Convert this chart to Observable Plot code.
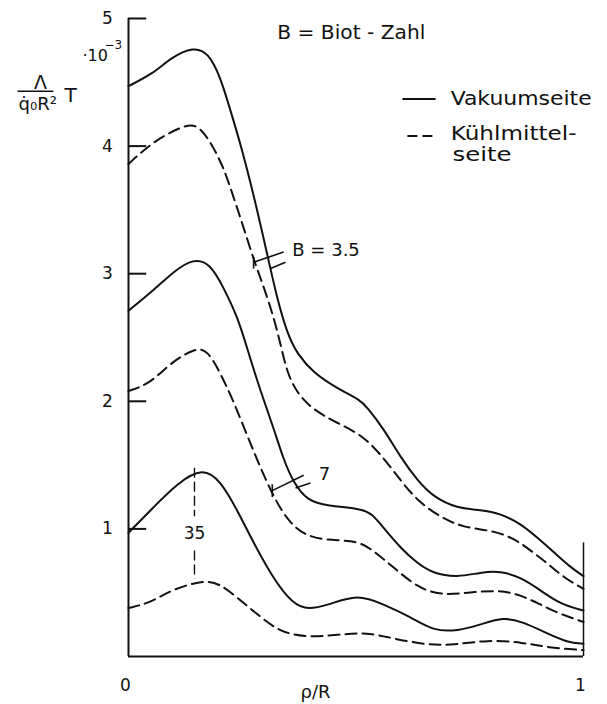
<!DOCTYPE html>
<html>
<head>
<meta charset="utf-8">
<script src="https://cdn.jsdelivr.net/npm/d3@7"></script>
<script src="https://cdn.jsdelivr.net/npm/@observablehq/plot@0.6"></script>
<style>
  html, body { margin: 0; padding: 0; background: #fff; }
  #chart svg { display: block; }
</style>
</head>
<body>
<div id="chart"></div>
<script>
// Dimensionless temperature Λ/(q̇0 R²)·T (×10⁻³) over ρ/R, for three Biot numbers.
// Each profile: [ρ/R, value] pairs.
const vakuum_B3_5 = [[0,4.47],[0.055,4.57],[0.092,4.69],[0.143,4.78],[0.176,4.73],[0.202,4.54],[0.224,4.28],[0.246,4.02],[0.275,3.62],[0.305,3.15],[0.327,2.80],[0.349,2.53],[0.371,2.37],[0.407,2.22],[0.459,2.10],[0.510,2.01],[0.525,1.95],[0.560,1.79],[0.598,1.56],[0.635,1.38],[0.670,1.25],[0.723,1.16],[0.774,1.15],[0.818,1.12],[0.862,1.04],[0.899,0.93],[0.934,0.82],[0.971,0.70],[1,0.63]];
const kuehl_B3_5 = [[0,3.86],[0.055,4.04],[0.130,4.18],[0.158,4.15],[0.187,3.99],[0.209,3.83],[0.231,3.60],[0.253,3.36],[0.279,3.07],[0.297,2.90],[0.319,2.66],[0.334,2.45],[0.349,2.22],[0.371,2.06],[0.407,1.93],[0.459,1.83],[0.516,1.73],[0.560,1.56],[0.598,1.38],[0.635,1.22],[0.686,1.09],[0.736,1.01],[0.796,0.99],[0.846,0.93],[0.884,0.83],[0.921,0.73],[0.956,0.62],[1,0.53]];
const vakuum_B7 = [[0,2.71],[0.055,2.87],[0.100,3.02],[0.143,3.12],[0.180,3.08],[0.209,2.89],[0.240,2.66],[0.262,2.40],[0.290,2.08],[0.319,1.79],[0.341,1.54],[0.363,1.36],[0.393,1.22],[0.437,1.18],[0.510,1.16],[0.535,1.12],[0.560,1.01],[0.598,0.85],[0.635,0.73],[0.670,0.65],[0.723,0.62],[0.774,0.66],[0.818,0.67],[0.862,0.62],[0.905,0.52],[0.949,0.41],[1,0.36]];
const kuehl_B7 = [[0,2.08],[0.048,2.14],[0.092,2.30],[0.147,2.42],[0.174,2.40],[0.202,2.22],[0.231,2.00],[0.262,1.72],[0.290,1.48],[0.319,1.25],[0.349,1.07],[0.385,0.95],[0.437,0.91],[0.503,0.91],[0.538,0.83],[0.582,0.70],[0.635,0.54],[0.686,0.48],[0.745,0.50],[0.811,0.52],[0.855,0.49],[0.899,0.42],[0.943,0.34],[1,0.27]];
const vakuum_B35 = [[0,0.97],[0.055,1.17],[0.108,1.36],[0.163,1.48],[0.202,1.38],[0.240,1.14],[0.275,0.89],[0.312,0.65],[0.349,0.46],[0.385,0.36],[0.437,0.40],[0.503,0.49],[0.560,0.41],[0.620,0.31],[0.670,0.20],[0.723,0.20],[0.774,0.25],[0.824,0.31],[0.868,0.27],[0.921,0.18],[0.965,0.11],[1,0.10]];
const kuehl_B35 = [[0,0.38],[0.048,0.42],[0.092,0.52],[0.165,0.60],[0.202,0.57],[0.246,0.44],[0.290,0.31],[0.334,0.19],[0.393,0.15],[0.459,0.17],[0.525,0.19],[0.582,0.14],[0.657,0.09],[0.714,0.09],[0.789,0.13],[0.868,0.11],[0.921,0.07],[1,0.05]];

const yTicks = [1, 2, 3, 4, 5];
const xTicks = [0, 1];

const profiles = [
  {B: "3.5", side: "Vakuumseite", pts: vakuum_B3_5},
  {B: "3.5", side: "Kühlmittelseite", pts: kuehl_B3_5},
  {B: "7", side: "Vakuumseite", pts: vakuum_B7},
  {B: "7", side: "Kühlmittelseite", pts: kuehl_B7},
  {B: "35", side: "Vakuumseite", pts: vakuum_B35},
  {B: "35", side: "Kühlmittelseite", pts: kuehl_B35}
];
const rows = profiles.flatMap(p => p.pts.map(([x, y]) => ({B: p.B, side: p.side, x, y})));

// Leader lines from the curve pairs to the Biot-number labels
const leaders = [
  {x1: 0.275, y1: 3.09, x2: 0.341, y2: 3.17},
  {x1: 0.275, y1: 3.13, x2: 0.275, y2: 3.04},
  {x1: 0.312, y1: 3.04, x2: 0.345, y2: 3.09},
  {x1: 0.316, y1: 1.30, x2: 0.385, y2: 1.42},
  {x1: 0.316, y1: 1.35, x2: 0.316, y2: 1.25},
  {x1: 0.367, y1: 1.32, x2: 0.400, y2: 1.36}
];
const leader35 = [
  {x1: 0.145, y1: 1.48, x2: 0.145, y2: 1.10},
  {x1: 0.145, y1: 0.83, x2: 0.145, y2: 0.61}
];

const ink = "#111";
const dash = "11,6";

const chart = Plot.plot({
  width: 607,
  height: 704,
  marginLeft: 128,
  marginRight: 24,
  marginTop: 18,
  marginBottom: 48,
  x: {domain: [0, 1], axis: null},
  y: {domain: [0, 5], axis: null},
  style: {fontFamily: "DejaVu Sans", background: "#fff", color: ink},
  marks: [
    // frame: left axis, base line, short right edge
    Plot.ruleX([0], {y1: 0, y2: 5, stroke: ink, strokeWidth: 2}),
    Plot.ruleY([0], {x1: 0, x2: 1, stroke: ink, strokeWidth: 2}),
    Plot.ruleX([1], {y1: 0, y2: 0.89, stroke: ink, strokeWidth: 1.5}),
    Plot.ruleY(yTicks, {x1: 0, x2: 0.04, stroke: ink, strokeWidth: 2}),
    Plot.text(yTicks, {x: 0, y: d => d, dx: -21, text: d => String(d), fontSize: 17, fill: ink}),
    Plot.text(xTicks, {x: d => d, y: 0, dx: -3, dy: 29, text: d => String(d), fontSize: 17, fill: ink}),
    Plot.text(["·10"], {x: 0, y: 5, dx: -46, dy: 42, textAnchor: "start", lineAnchor: "bottom", fontSize: 16, fill: ink}),
    Plot.text(["−3"], {x: 0, y: 5, dx: -24, dy: 30, textAnchor: "start", lineAnchor: "bottom", fontSize: 12, fill: ink}),
    Plot.text(["ρ/R"], {x: 0.411, y: 0, dy: 36, fontSize: 18, fill: ink}),

    // y-axis title as a fraction
    Plot.text(["Λ"], {x: 0, y: 5, dx: -88, dy: 64, fontSize: 19, fill: ink}),
    Plot.link([0], {x1: -0.244, x2: -0.165, y1: 4.43, y2: 4.43, stroke: ink, strokeWidth: 1.6}),
    Plot.text(["q̇₀R²"], {x: 0, y: 5, dx: -110, dy: 86, textAnchor: "start", fontSize: 18, fill: ink}),
    Plot.text(["T"], {x: 0, y: 5, dx: -58, dy: 77, fontSize: 20, fill: ink}),

    // temperature profiles
    Plot.line(rows.filter(d => d.side === "Vakuumseite"), {x: "x", y: "y", z: "B", curve: "basis", stroke: ink, strokeWidth: 2}),
    Plot.line(rows.filter(d => d.side === "Kühlmittelseite"), {x: "x", y: "y", z: "B", curve: "basis", stroke: ink, strokeWidth: 2, strokeDasharray: dash}),

    // Biot-number labels
    Plot.link(leaders, {x1: "x1", y1: "y1", x2: "x2", y2: "y2", stroke: ink, strokeWidth: 1.6}),
    Plot.link(leader35, {x1: "x1", y1: "y1", x2: "x2", y2: "y2", stroke: ink, strokeWidth: 1.4, strokeDasharray: "10,4"}),
    Plot.text(["B = 3.5"], {x: 0.360, y: 3.18, textAnchor: "start", fontSize: 18, fill: ink}),
    Plot.text(["7"], {x: 0.418, y: 1.43, textAnchor: "start", fontSize: 18, fill: ink}),
    Plot.text(["35"], {x: 0.145, y: 0.96, fontSize: 17, fill: ink}),

    // heading and legend
    Plot.text(["B = Biot - Zahl"], {x: 0.327, y: 4.84, textAnchor: "start", lineAnchor: "bottom", fontSize: 19, fill: ink}),
    Plot.link([0], {x1: 0.602, x2: 0.675, y1: 4.37, y2: 4.37, stroke: ink, strokeWidth: 2}),
    Plot.link([0], {x1: 0.613, x2: 0.668, y1: 4.08, y2: 4.08, stroke: ink, strokeWidth: 2, strokeDasharray: "10,5"}),
    Plot.text(["Vakuumseite"], {x: 0.708, y: 4.32, textAnchor: "start", lineAnchor: "bottom", fontSize: 19, fill: ink}),
    Plot.text(["Kühlmittel-"], {x: 0.708, y: 4.05, textAnchor: "start", lineAnchor: "bottom", fontSize: 19, fill: ink}),
    Plot.text(["seite"], {x: 0.712, y: 3.885, textAnchor: "start", lineAnchor: "bottom", fontSize: 19, fill: ink})
  ]
});

// widen the legend and heading lettering to their drawn widths
const spread = {"Vakuumseite": 141, "Kühlmittel-": 126, "seite": 59, "B = Biot - Zahl": 148};
d3.select(chart).selectAll("text").each(function() {
  const w = spread[this.textContent];
  if (w) { this.setAttribute("textLength", w); this.setAttribute("lengthAdjust", "spacingAndGlyphs"); }
});

document.getElementById("chart").appendChild(chart);
</script>
</body>
</html>
